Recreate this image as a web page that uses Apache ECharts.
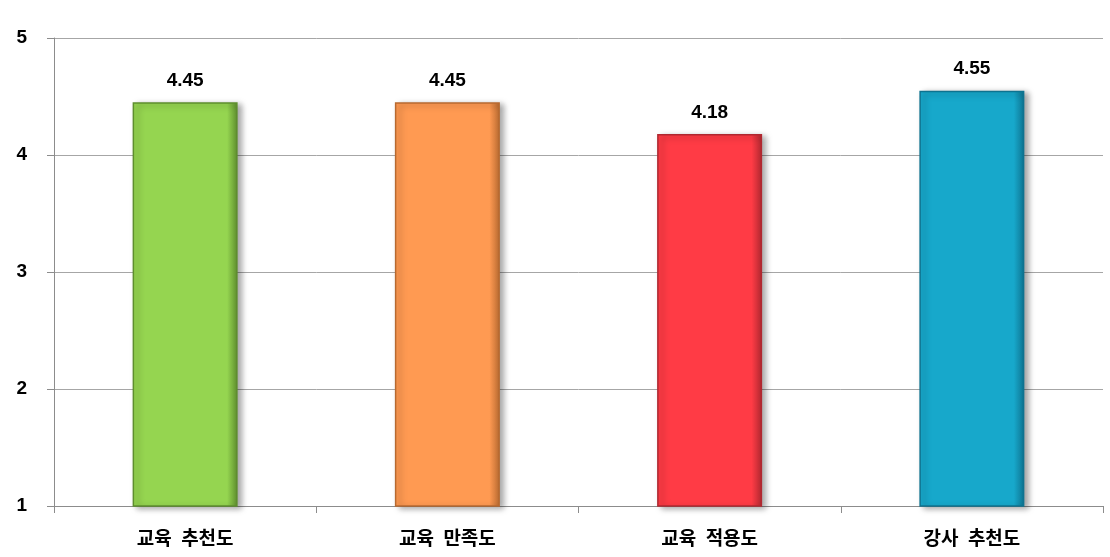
<!DOCTYPE html>
<html><head><meta charset="utf-8">
<script src="https://cdn.jsdelivr.net/npm/echarts@6/dist/echarts.min.js"></script>
<style>html,body{margin:0;padding:0;background:#fff}#c{width:1110px;height:557px}</style>
</head><body><div id="c"></div>
<script>
const categories = ['교육 추천도', '교육 만족도', '교육 적용도', '강사 추천도'];
const values = [4.45, 4.45, 4.18, 4.55];
const barColors = ['#95D550', '#FF9A52', '#FF3B45', '#17A8CB'];
const edgeColors = ['#5E8E2E', '#B86A30', '#B02830', '#0E7390'];
const yTicks = [1, 2, 3, 4, 5];

const chart = echarts.init(document.getElementById('c'));
const font = '"Noto Sans CJK KR", "Liberation Sans", sans-serif';
chart.setOption({
  animation: false,
  grid: { left: 54, right: 7, top: 38, bottom: 51 },
  xAxis: {
    type: 'category', data: categories,
    axisLine: { lineStyle: { color: '#8c8c8c', width: 1 } },
    axisTick: { show: true, length: 7, lineStyle: { color: '#8c8c8c' } },
    axisLabel: {
      color: '#000', fontWeight: 'bold', fontSize: 19, fontFamily: font, margin: 22,
      formatter: v => v.replace(' ', '\u2002')
    }
  },
  yAxis: {
    type: 'value', min: yTicks[0], max: yTicks[yTicks.length - 1], interval: 1,
    axisLine: { show: true, lineStyle: { color: '#8c8c8c', width: 1 } },
    axisTick: { show: true, length: 7, lineStyle: { color: '#8c8c8c' } },
    splitLine: { lineStyle: { color: '#a6a6a6', width: 1 } },
    axisLabel: { color: '#000', fontWeight: 'bold', fontSize: 19, fontFamily: 'Liberation Sans, Arial, sans-serif', margin: 27 }
  },
  series: [{
    type: 'bar', barWidth: 105,
    data: values.map((v, i) => ({
      value: v,
      itemStyle: {
        color: {
          type: 'linear', x: 0, y: 0, x2: 1, y2: 0,
          colorStops: [
            { offset: 0, color: barColors[i] },
            { offset: 0.9, color: barColors[i] },
            { offset: 1, color: edgeColors[i] }
          ]
        },
        borderColor: edgeColors[i], borderWidth: 1.5,
        shadowColor: 'rgba(0,0,0,0.35)', shadowBlur: 6, shadowOffsetX: 4, shadowOffsetY: 2
      }
    })),
    label: {
      show: true, position: 'top', distance: 12, color: '#000',
      fontWeight: 'bold', fontSize: 19, fontFamily: 'Liberation Sans, Arial, sans-serif',
      formatter: p => p.value.toFixed(2)
    }
  }]
});
</script></body></html>
